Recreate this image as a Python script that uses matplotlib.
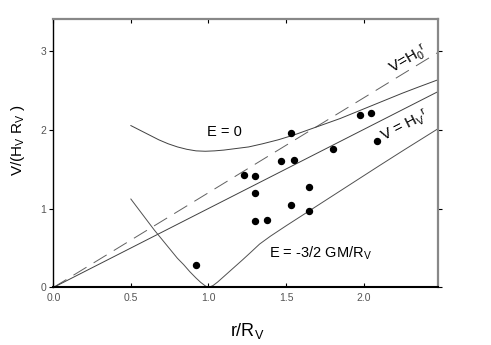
import numpy as np
import matplotlib
matplotlib.use("Agg")
import matplotlib.pyplot as plt

plt.rcParams.update({
    "font.family": ["Liberation Sans", "DejaVu Sans"],
    "mathtext.fontset": "custom",
    "mathtext.rm": "Liberation Sans",
    "mathtext.it": "Liberation Sans",
    "mathtext.default": "regular",
    "lines.scale_dashes": False,
})

# galaxies (r/Rv, V/(Hv Rv))
gal_r = [0.92, 1.23, 1.30, 1.30, 1.30, 1.38, 1.47, 1.55, 1.53, 1.53, 1.65, 1.65, 1.80, 1.98, 2.05, 2.09]
gal_v = [0.29, 1.42, 1.41, 1.20, 0.84, 0.86, 1.60, 1.61, 1.95, 1.04, 1.27, 0.97, 1.75, 2.19, 2.21, 1.85]

# E = 0 curve
e0_r = [0.50, 0.56, 0.62, 0.68, 0.74, 0.80, 0.86, 0.92, 0.98, 1.04, 1.10, 1.18, 1.26, 1.35, 1.45,
        1.55, 1.65, 1.75, 1.85, 1.95, 2.05, 2.15, 2.25, 2.35, 2.48]
e0_v = [2.05, 1.99, 1.93, 1.87, 1.82, 1.78, 1.75, 1.73, 1.725, 1.73, 1.74, 1.76, 1.78, 1.82, 1.87,
        1.93, 2.00, 2.07, 2.14, 2.22, 2.30, 2.38, 2.46, 2.535, 2.63]

# E = -3/2 GM/Rv curve
e1_r = [0.50, 0.55, 0.60, 0.65, 0.70, 0.75, 0.80, 0.84, 0.88, 0.92, 0.95, 0.98, 1.00, 1.03, 1.06,
        1.10, 1.14, 1.18, 1.22, 1.27, 1.33, 1.40, 1.50, 1.65, 1.80, 1.95, 2.10, 2.26, 2.48]
e1_v = [1.12, 0.99, 0.86, 0.73, 0.61, 0.49, 0.37, 0.29, 0.20, 0.12, 0.065, 0.02, 0.0, 0.025, 0.07,
        0.14, 0.21, 0.28, 0.35, 0.44, 0.55, 0.65, 0.78, 0.97, 1.16, 1.35, 1.54, 1.74, 2.01]

# straight Hubble lines
h0_r, h0_v = [0.0, 2.5], [0.0, 3.0]
hv_r, hv_v = [0.0, 2.5], [0.0, 2.5]

fig = plt.figure(figsize=(4.91, 3.45), dpi=100)
ax = fig.add_axes([0.1086, 0.1667, 0.7834, 0.7783])

ax.plot(h0_r, h0_v, color="#606060", lw=0.7, dashes=(11, 6))
ax.plot(hv_r, hv_v, color="#404040", lw=0.7)
ax.plot(e0_r, e0_v, color="#404040", lw=0.7)
ax.plot(e1_r, e1_v, color="#505050", lw=0.7)
ax.plot(gal_r, gal_v, "o", color="black", ms=4.3, mec="black")

ax.text(0.99, 1.92, "E = 0", fontsize=10.5, ha="left", va="baseline")
ax.text(1.39, 0.38, "E = -3/2 GM/R$_V$", fontsize=10.5, ha="left", va="baseline")
ax.text(2.29, 2.88, "V=H$_0$$^{r}$", fontsize=11, rotation=30, ha="center", va="center")
ax.text(2.27, 2.04, "V = H$_V$$^{r}$", fontsize=11, rotation=27, ha="center", va="center")

ax.set_xlim(0, 2.48)
ax.set_ylim(0, 3.4)
ax.set_xticks([0.0, 0.5, 1.0, 1.5, 2.0])
ax.set_xticklabels(["0.0", "0.5", "1.0", "1.5", "2.0"])
ax.set_yticks([0, 1, 2, 3])
ax.tick_params(axis="both", labelsize=7.5, labelcolor="#555555", direction="in", length=3,
               width=0.8, top=True, right=True, pad=4)
ax.tick_params(axis="y", direction="out", pad=2)

for s in ["top", "right"]:
    ax.spines[s].set_color("#888888")
    ax.spines[s].set_linewidth(1.6)
ax.spines["left"].set_linewidth(1.0)
ax.spines["bottom"].set_linewidth(1.5)

ax.set_xlabel("r/R$_V$", fontsize=13)
ax.xaxis.set_label_coords(0.503, -0.125)
ax.set_ylabel("V/(H$_V$ R$_V$ )", fontsize=11)
ax.yaxis.set_label_coords(-0.068, 0.55)

fig.savefig("out.png", dpi=100)
